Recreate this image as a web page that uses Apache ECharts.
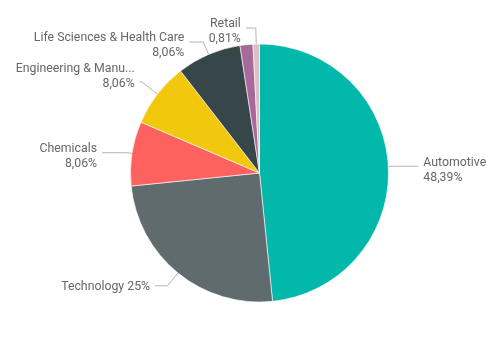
<!DOCTYPE html>
<html>
<head>
<meta charset="utf-8">
<script src="https://cdn.jsdelivr.net/npm/echarts@6/dist/echarts.min.js"></script>
<style>html,body{margin:0;padding:0;background:#fff}#c{width:498px;height:357px}</style>
</head>
<body>
<div id="c"></div>
<script>
const categories = ["Automotive", "Technology", "Chemicals", "Engineering & Manu...", "Life Sciences & Health Care", "Other", "Retail"];
const values = [60, 31, 10, 10, 10, 2, 1];
const colors = ["#01B8AA", "#5F6B6D", "#FD625E", "#F2C80F", "#374649", "#A66999", "#DFBFBF"];
const showLabel = [true, true, true, true, true, false, true];
const singleLine = [false, true, false, false, false, false, false];
const lineLen1 = [4, 16.5, 5, 20, 13.5, 10, 16];
const lineLen2 = [26, 12.5, 25, 2, 14, 10, 10];
const textShift = [4, 1, 4, -5, 3, 0, 3];

const total = values.reduce((a, b) => a + b, 0);
function pct(v) {
  let p = Math.round(v / total * 10000) / 100;
  return String(p).replace('.', ',') + '%';
}
function spacer(h) {
  return '{s' + h + '| }';
}

const rich = {};
for (let h = 1; h <= 20; h++) rich['s' + h] = {lineHeight: h, height: h, fontSize: 1};

const chart = echarts.init(document.getElementById('c'), null, {renderer: 'canvas'});
chart.setOption({
  animation: false,
  series: [{
    type: 'pie',
    center: [259.5, 173],
    radius: [0, 129],
    startAngle: 90,
    clockwise: true,
    avoidLabelOverlap: false,
    itemStyle: {borderColor: '#ffffff', borderWidth: 0.6},
    label: {
      show: true,
      position: 'outside',
      overflow: 'none',
      edgeDistance: 0,
      fontFamily: 'Roboto',
      fontSize: 12.3,
      color: '#666666',
      lineHeight: 15,
      rich: rich,
      formatter: function (p) {
        const i = p.dataIndex;
        let t = singleLine[i] ? p.name + ' ' + pct(p.value) : p.name + '\n' + pct(p.value);
        const s = Math.round(Math.abs(textShift[i]) * 2);
        if (textShift[i] > 0) t = spacer(s) + '\n' + t;
        else if (textShift[i] < 0) t = t + '\n' + spacer(s);
        return t;
      }
    },
    labelLine: {show: true, lineStyle: {color: '#b3b3b3', width: 1}},
    data: categories.map((c, i) => ({
      name: c, value: values[i],
      itemStyle: {color: colors[i]},
      label: {show: showLabel[i]},
      labelLine: {show: showLabel[i], length: lineLen1[i], length2: lineLen2[i]}
    }))
  }]
});
</script>
</body>
</html>
